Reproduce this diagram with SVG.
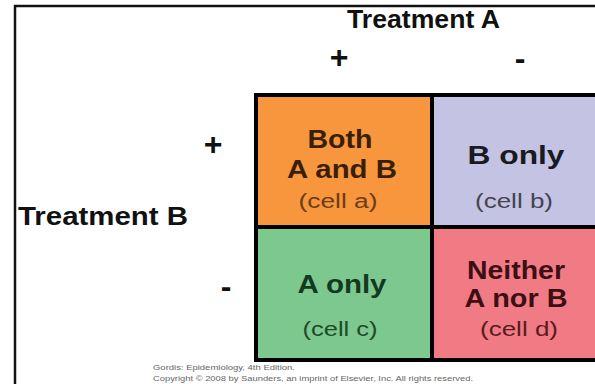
<svg xmlns="http://www.w3.org/2000/svg" width="595" height="384" viewBox="0 0 595 384">
  <style>
    .hd { font-family: "Liberation Sans", Arial, sans-serif; font-weight: bold; fill: #111; }
    .big { font-family: "Liberation Sans", Arial, sans-serif; font-weight: bold; font-size: 25px; text-anchor: middle; }
    .sub { font-family: "Liberation Sans", Arial, sans-serif; font-size: 20px; text-anchor: middle; }
    .cell { stroke: #000; stroke-width: 4; }
    .note { font-family: "Liberation Sans", Arial, sans-serif; font-size: 8px; fill: #666; }
  </style>
  <rect x="0" y="0" width="595" height="384" fill="#fff"/>
  <!-- outer frame -->
  <rect x="15" y="6" width="600" height="400" fill="none" stroke="#111" stroke-width="2.5"/>

  <!-- axis headings -->
  <text class="hd" x="347" y="28" font-size="25" textLength="153" lengthAdjust="spacingAndGlyphs">Treatment A</text>
  <text class="hd" x="18" y="225" font-size="25" textLength="170" lengthAdjust="spacingAndGlyphs">Treatment B</text>
  <text class="hd" x="339" y="68" font-size="32" text-anchor="middle">+</text>
  <text class="hd" x="520" y="69" font-size="32" text-anchor="middle">-</text>
  <text class="hd" x="213" y="155" font-size="32" text-anchor="middle">+</text>
  <text class="hd" x="226" y="297" font-size="32" text-anchor="middle">-</text>

  <!-- cell a -->
  <g id="cell-a">
    <rect class="cell" x="256" y="95" width="176" height="132" fill="#F7963D"/>
    <text class="big" x="340" y="148" fill="#3a1e08" textLength="65" lengthAdjust="spacingAndGlyphs">Both</text>
    <text class="big" x="342" y="178" fill="#3a1e08" textLength="110" lengthAdjust="spacingAndGlyphs">A and B</text>
    <text class="sub" x="338" y="208" fill="#6b3d15" textLength="79" lengthAdjust="spacingAndGlyphs">(cell a)</text>
  </g>
  <!-- cell b -->
  <g id="cell-b">
    <rect class="cell" x="432" y="95" width="170" height="132" fill="#C4C3E3"/>
    <text class="big" x="516" y="164" fill="#1a1a22" font-size="26" textLength="97" lengthAdjust="spacingAndGlyphs">B only</text>
    <text class="sub" x="514" y="208" fill="#444450" textLength="78" lengthAdjust="spacingAndGlyphs">(cell b)</text>
  </g>
  <!-- cell c -->
  <g id="cell-c">
    <rect class="cell" x="256" y="227" width="176" height="133" fill="#7DC88F"/>
    <text class="big" x="342" y="293" fill="#123a1e" font-size="26" textLength="89" lengthAdjust="spacingAndGlyphs">A only</text>
    <text class="sub" x="340" y="336" fill="#1f4a2a" textLength="75" lengthAdjust="spacingAndGlyphs">(cell c)</text>
  </g>
  <!-- cell d -->
  <g id="cell-d">
    <rect class="cell" x="432" y="227" width="170" height="133" fill="#F07B84"/>
    <text class="big" x="516" y="279" fill="#3d0f12" textLength="98" lengthAdjust="spacingAndGlyphs">Neither</text>
    <text class="big" x="516" y="307" fill="#3d0f12" textLength="103" lengthAdjust="spacingAndGlyphs">A nor B</text>
    <text class="sub" x="519" y="336" fill="#5a1a1e" textLength="78" lengthAdjust="spacingAndGlyphs">(cell d)</text>
  </g>

  <!-- source note -->
  <text class="note" x="153" y="370" textLength="142" lengthAdjust="spacingAndGlyphs">Gordis: Epidemiology, 4th Edition.</text>
  <text class="note" x="153" y="381" textLength="320" lengthAdjust="spacingAndGlyphs">Copyright © 2008 by Saunders, an imprint of Elsevier, Inc. All rights reserved.</text>
</svg>
